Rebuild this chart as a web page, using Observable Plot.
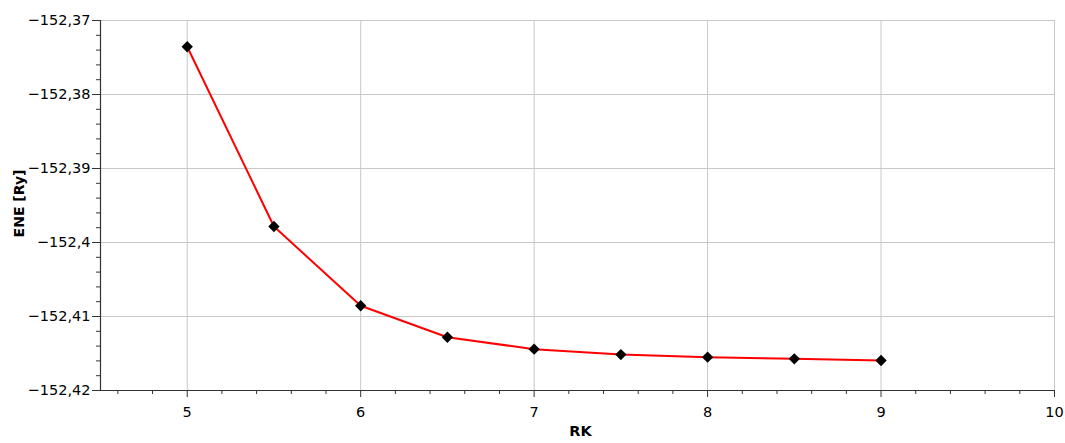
<!DOCTYPE html>
<html>
<head>
<meta charset="utf-8">
<script src="https://cdn.jsdelivr.net/npm/d3@7"></script>
<script src="https://cdn.jsdelivr.net/npm/@observablehq/plot@0.6"></script>
<style>
  html, body { margin: 0; padding: 0; background: #fff; }
  svg { display: block; }
</style>
</head>
<body>
<div id="chart"></div>
<script>
const rk = [5, 5.5, 6, 6.5, 7, 7.5, 8, 8.5, 9];
const ene = [-152.37355, -152.39784, -152.40855, -152.4128, -152.41442, -152.41514, -152.4155, -152.41572, -152.41595];
const xMajorTicks = [5, 6, 7, 8, 9, 10];
const xMinorTicks = [4.6, 4.8, 5.2, 5.4, 5.6, 5.8, 6.2, 6.4, 6.6, 6.8, 7.2, 7.4, 7.6, 7.8, 8.2, 8.4, 8.6, 8.8, 9.2, 9.4, 9.6, 9.8];
const yMajorTicks = [-152.42, -152.41, -152.40, -152.39, -152.38, -152.37];
const yMinorTicks = [-152.418, -152.416, -152.414, -152.412, -152.408, -152.406, -152.404, -152.402,
  -152.398, -152.396, -152.394, -152.392, -152.388, -152.386, -152.384, -152.382,
  -152.378, -152.376, -152.374, -152.372];
const xLabel = "RK";
const yLabel = "ENE [Ry]";

const data = rk.map((x, i) => ({x, y: ene[i]}));
const fmt = d => String(+d.toFixed(4)).replace("-", "\u2212").replace(".", ",");

const chart = Plot.plot({
  width: 1065,
  height: 443,
  marginLeft: 100,
  marginRight: 11,
  marginTop: 20,
  marginBottom: 53,
  style: {fontFamily: "'DejaVu Sans', Verdana, sans-serif", fontSize: "14.5px", color: "#000", background: "#fff"},
  x: {domain: [4.5, 10]},
  y: {domain: [-152.42, -152.37]},
  marks: [
    Plot.ruleX(xMajorTicks, {stroke: "#c8c8c8", strokeWidth: 1}),
    Plot.ruleY(yMajorTicks, {stroke: "#c8c8c8", strokeWidth: 1}),
    Plot.axisX({ticks: xMinorTicks, tickSize: 4, text: null, label: null, stroke: "#333"}),
    Plot.axisX({ticks: xMajorTicks, tickSize: 7, tickPadding: 9, tickFormat: fmt, stroke: "#333", fontSize: 14.5, label: null}),
    Plot.axisY({ticks: yMinorTicks, tickSize: 4, text: null, label: null, stroke: "#333"}),
    Plot.axisY({ticks: yMajorTicks, tickSize: 8, tickPadding: 2, tickFormat: fmt, stroke: "#333", fontSize: 14.5, label: null}),
    Plot.ruleY([-152.42], {stroke: "#333", strokeWidth: 1.2}),
    Plot.ruleX([4.5], {stroke: "#333", strokeWidth: 1.2}),
    Plot.line(data, {x: "x", y: "y", stroke: "#ff0000", strokeWidth: 2}),
    Plot.dot(data, {x: "x", y: "y", symbol: "diamond2", r: 5.1, fill: "#000", stroke: "none"}),
    Plot.text([xLabel], {frameAnchor: "bottom", textAnchor: "middle", dx: 3, dy: 45, text: d => d, fontWeight: "bold", fontSize: 14.5}),
    Plot.text([yLabel], {frameAnchor: "left", textAnchor: "middle", dx: -81, dy: -2, rotate: -90, text: d => d, fontWeight: "bold", fontSize: 14})
  ]
});
document.getElementById("chart").appendChild(chart);
</script>
</body>
</html>
